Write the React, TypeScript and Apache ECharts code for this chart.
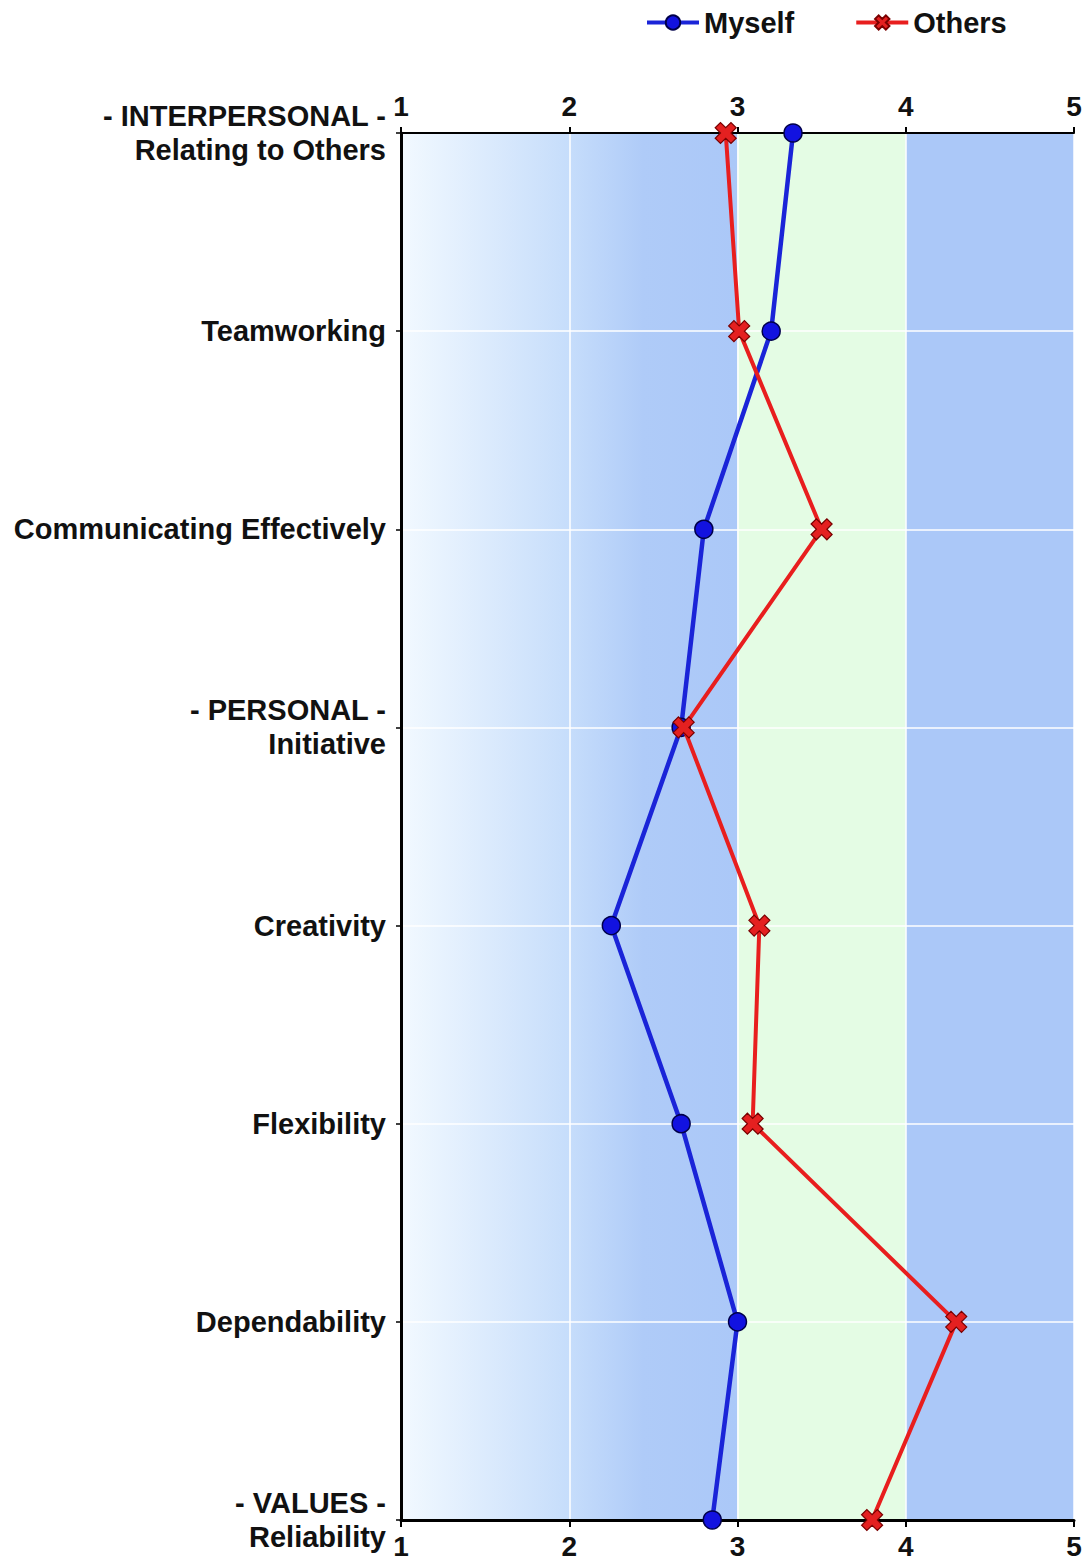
import React, { useEffect, useRef } from "react";
import * as echarts from "echarts";

const categories = [
  "- INTERPERSONAL -\nRelating to Others",
  "Teamworking",
  "Communicating Effectively",
  "- PERSONAL -\nInitiative",
  "Creativity",
  "Flexibility",
  "Dependability",
  "- VALUES -\nReliability",
];
const myselfValues = [3.33, 3.2, 2.8, 2.665, 2.25, 2.665, 3.0, 2.85];
const othersValues = [2.93, 3.01, 3.5, 2.68, 3.13, 3.09, 4.3, 3.8];
const scaleMin = 1;
const scaleMax = 5;
const bandLowEnd = 3;
const bandMidEnd = 4;

const FONT = "'Liberation Sans', Arial, sans-serif";
const CROSS =
  "path://M0,2.5 L2.5,0 L5,2.5 L7.5,0 L10,2.5 L7.5,5 L10,7.5 L7.5,10 L5,7.5 L2.5,10 L0,7.5 L2.5,5 Z";

export default function App() {
  const ref = useRef<HTMLDivElement>(null);
  useEffect(() => {
    if (!ref.current) return;
    const chart = echarts.init(ref.current, null, { renderer: "svg" });
    const gradient = new echarts.graphic.LinearGradient(0, 0, 1, 0, [
      { offset: 0, color: "#f2f9ff" },
      { offset: 0.25, color: "#dcebfd" },
      { offset: 0.5, color: "#c6ddfb" },
      { offset: 0.72, color: "#afcbf8" },
      { offset: 1, color: "#abc8f8" },
    ]);
    const labelBase = { fontWeight: "bold", color: "#111", fontFamily: FONT };
    chart.setOption({
      animation: false,
      backgroundColor: "#ffffff",
      textStyle: { fontFamily: FONT },
      legend: {
        left: 640,
        top: 3,
        itemWidth: 52,
        itemHeight: 18,
        itemGap: 60,
        lineStyle: { width: 4 },
        textStyle: { fontSize: 29, ...labelBase },
        data: [
          { name: "Myself", lineStyle: { width: 4, color: "#1a24d8" } },
          { name: "Others", lineStyle: { width: 4, color: "#e81e1e" } },
        ],
      },
      grid: { left: 401, right: 17, top: 133, bottom: 42, containLabel: false },
      xAxis: [
        {
          type: "value",
          position: "bottom",
          min: scaleMin,
          max: scaleMax,
          interval: 1,
          axisLine: { show: true, lineStyle: { color: "#000", width: 3 } },
          axisTick: { show: true, length: 7, lineStyle: { color: "#000", width: 2 } },
          axisLabel: { fontSize: 28, margin: 12, ...labelBase },
          splitLine: { show: true, lineStyle: { color: "#ffffff", width: 1.5 } },
        },
        {
          type: "value",
          position: "top",
          min: scaleMin,
          max: scaleMax,
          interval: 1,
          axisLine: { show: true, lineStyle: { color: "#000", width: 2 } },
          axisTick: { show: true, length: 6, lineStyle: { color: "#000", width: 2 } },
          axisLabel: { fontSize: 28, margin: 13, ...labelBase },
          splitLine: { show: false },
        },
      ],
      yAxis: {
        type: "category",
        inverse: true,
        boundaryGap: false,
        data: categories,
        axisLine: { show: true, lineStyle: { color: "#000", width: 3 } },
        axisTick: { show: true, length: 5, lineStyle: { color: "#000", width: 1.5 } },
        axisLabel: { fontSize: 29, lineHeight: 34, margin: 15, ...labelBase },
        splitLine: { show: true, lineStyle: { color: "#ffffff", width: 1.5 } },
      },
      series: [
        {
          name: "bands",
          type: "line",
          z: -1,
          data: [],
          silent: true,
          markArea: {
            z: -1,
            silent: true,
            data: [
              [{ xAxis: scaleMin, itemStyle: { color: gradient } }, { xAxis: bandLowEnd }],
              [{ xAxis: bandLowEnd, itemStyle: { color: "#e4fce4" } }, { xAxis: bandMidEnd }],
              [{ xAxis: bandMidEnd, itemStyle: { color: "#abc8f8" } }, { xAxis: scaleMax }],
            ],
          },
        },
        {
          name: "Myself",
          type: "line",
          z: 3,
          data: myselfValues,
          symbol: "circle",
          symbolSize: 18,
          lineStyle: { color: "#1a24d8", width: 4.5 },
          itemStyle: { color: "#1212e0", borderColor: "#00004a", borderWidth: 1.5 },
        },
        {
          name: "Others",
          type: "line",
          z: 4,
          data: othersValues,
          symbol: CROSS,
          symbolSize: 21,
          lineStyle: { color: "#e81e1e", width: 4 },
          itemStyle: { color: "#e42020", borderColor: "#7a0000", borderWidth: 1.2 },
        },
      ],
    });
    return () => chart.dispose();
  }, []);
  return (
    <div
      ref={ref}
      style={{ position: "fixed", left: 0, top: 0, width: 1091, height: 1562 }}
    />
  );
}
